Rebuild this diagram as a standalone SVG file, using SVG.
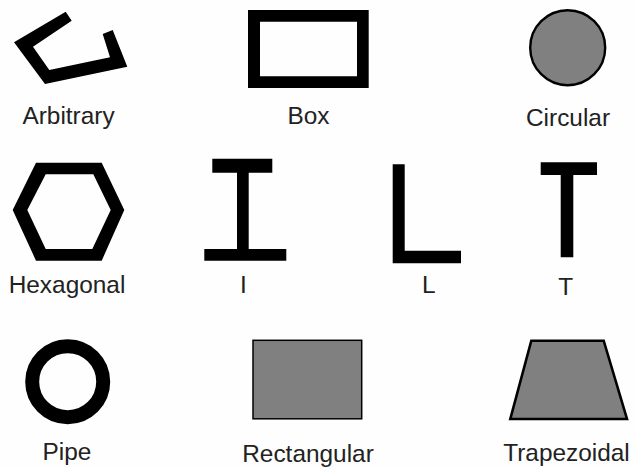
<svg xmlns="http://www.w3.org/2000/svg" width="634" height="468" viewBox="0 0 634 468">
<style>
.k{fill:#000;stroke:none}
.g{fill:#808080;stroke:#000}
text{font-family:"Liberation Sans",Arial,sans-serif;font-size:24.4px;fill:#222;text-anchor:middle}
</style>
<rect width="634" height="468" fill="#fefefe"/>
<g id="arbitrary"><polygon class="k" points="65.7,11.7 71.7,20.7 33,46.7 49.3,70 110,57.3 102.7,34 112.7,30 127.3,66.7 45,84 14,42.3"/><text x="68.5" y="124">Arbitrary</text></g>
<g id="box"><path class="k" fill-rule="evenodd" d="M248 10H368.7V88H248ZM260 21.7V76.3H357V21.7Z"/><text x="308.5" y="123.5">Box</text></g>
<g id="circular"><circle class="g" cx="567.7" cy="47.7" r="37.5" stroke-width="2.4"/><text x="568" y="126">Circular</text></g>
<g id="hexagonal"><path class="k" fill-rule="evenodd" d="M36 162.7H101.7L124.3 210L101.7 260.7H36L12.7 210ZM45.7 174.3L27.3 210L45.7 249H92.3L110.7 210L93.3 174.3Z"/><text x="67" y="292.7">Hexagonal</text></g>
<g id="i"><path class="k" d="M212.3 158.7H272.3V172.7H248.7V249H286.3V260.7H204.3V249H237V172.7H212.3Z"/><text x="243.3" y="293">I</text></g>
<g id="l"><path class="k" d="M392.7 164.3H404.7V250.7H461V263.3H392.7Z"/><text x="428.7" y="293.3">L</text></g>
<g id="t"><path class="k" d="M540.7 162.3H597V175H573.3V257.3H560.7V175H540.7Z"/><text x="565.7" y="295">T</text></g>
<g id="pipe"><circle cx="67.7" cy="381.7" r="35.5" fill="none" stroke="#000" stroke-width="14"/><text x="67" y="460">Pipe</text></g>
<g id="rectangular"><rect class="g" x="253" y="340.3" width="108.7" height="78.5" stroke-width="1.5"/><text x="308" y="461.7">Rectangular</text></g>
<g id="trapezoidal"><polygon class="g" points="531.3,340.7 603.7,340.7 627,419 510.3,419" stroke-width="2.6"/><text x="566.5" y="460.7">Trapezoidal</text></g>
<g id="connectors"/>
</svg>
